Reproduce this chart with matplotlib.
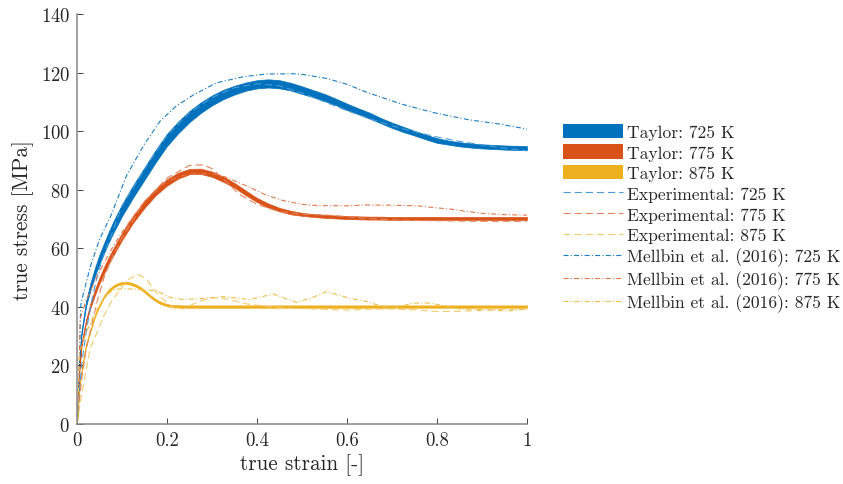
import matplotlib
matplotlib.use("Agg")
import matplotlib.pyplot as plt
from matplotlib.patches import Patch
from matplotlib.lines import Line2D

plt.rcParams["font.family"] = "serif"
plt.rcParams["font.serif"] = ["cmr10"]
plt.rcParams["axes.formatter.use_mathtext"] = True
plt.rcParams["axes.unicode_minus"] = False

BLUE = "#0072BD"
ORANGE = "#D95319"
YELLOW = "#EDB120"

# Taylor model bands (lower / upper edge of the simulation spread)
taylor_x = [0, 0.005, 0.01, 0.02, 0.03, 0.04, 0.05, 0.06, 0.07, 0.08, 0.09, 0.1, 0.125, 0.15,
            0.175, 0.2, 0.225, 0.25, 0.275, 0.3, 0.325, 0.35, 0.375, 0.4, 0.425, 0.45, 0.475,
            0.5, 0.525, 0.55, 0.575, 0.6, 0.625, 0.65, 0.675, 0.7, 0.725, 0.75, 0.775, 0.8,
            0.825, 0.85, 0.875, 0.9, 0.95, 1.0]
taylor725_hi = [0, 22.5, 31.7, 41.9, 48.2, 53.4, 57.9, 61.7, 65.4, 68.9, 72.0, 75.0, 81.6, 87.6,
                93.6, 99.1, 103.3, 106.9, 109.8, 112.2, 114.1, 115.5, 116.6, 117.4, 117.7, 117.4,
                116.5, 115.3, 114.0, 112.7, 111.1, 109.4, 107.8, 106.3, 104.5, 102.9, 101.5,
                100.1, 98.8, 97.6, 96.8, 96.2, 95.8, 95.5, 95.1, 94.9]
taylor725_lo = [0, 21.5, 30.3, 40.1, 45.8, 50.6, 54.7, 58.3, 61.8, 65.1, 68.0, 71.0, 77.4, 83.4,
                89.4, 94.9, 99.3, 103.1, 106.2, 108.8, 110.9, 112.5, 113.8, 114.6, 114.9, 114.6,
                113.9, 112.7, 111.6, 110.3, 108.9, 107.2, 105.8, 104.3, 102.7, 101.1, 99.7,
                98.5, 97.2, 96.0, 95.4, 94.8, 94.4, 94.1, 93.7, 93.5]
taylor775_hi = [0, 18.4, 27.5, 35.6, 41.3, 45.9, 50.0, 53.6, 56.8, 59.7, 62.5, 65.2, 71.2, 76.2,
                80.3, 83.6, 85.8, 87.1, 87.2, 86.2, 84.5, 82.3, 79.7, 77.2, 75.3, 73.8, 72.8,
                72.1, 71.7, 71.4, 71.2, 71.0, 70.9, 70.8, 70.8, 70.7, 70.7, 70.7, 70.7, 70.7,
                70.7, 70.7, 70.7, 70.7, 70.7, 70.7]
taylor775_lo = [0, 17.6, 26.5, 34.4, 39.7, 44.1, 48.0, 51.4, 54.6, 57.3, 60.1, 62.8, 68.8, 73.8,
                78.1, 81.4, 83.8, 85.3, 85.4, 84.4, 82.7, 80.7, 78.1, 75.8, 73.9, 72.6, 71.6,
                71.1, 70.7, 70.4, 70.2, 70.0, 69.9, 69.8, 69.8, 69.7, 69.7, 69.7, 69.7, 69.7,
                69.7, 69.7, 69.7, 69.7, 69.7, 69.7]

taylor875_x = [0, 0.005, 0.01, 0.02, 0.03, 0.04, 0.05, 0.06, 0.07, 0.08, 0.09, 0.1, 0.11, 0.12,
               0.13, 0.14, 0.15, 0.16, 0.17, 0.18, 0.19, 0.2, 0.21, 0.22, 0.24, 0.27, 0.3, 0.4,
               0.5, 0.6, 0.7, 0.8, 0.9, 1.0]
taylor875_hi = [0, 12.4, 18.4, 27.4, 32.4, 37.4, 40.9, 43.9, 45.9, 47.2, 48.1, 48.5, 48.6, 48.3,
                47.7, 46.9, 45.7, 44.4, 43.2, 42.2, 41.5, 41.0, 40.7, 40.6, 40.5, 40.5, 40.5,
                40.5, 40.5, 40.5, 40.5, 40.5, 40.5, 40.5]
taylor875_lo = [0, 11.6, 17.6, 26.6, 31.6, 36.6, 40.1, 43.1, 45.1, 46.4, 47.3, 47.7, 47.8, 47.5,
                46.9, 46.1, 44.9, 43.6, 42.4, 41.4, 40.7, 40.2, 39.9, 39.8, 39.7, 39.7, 39.7,
                39.7, 39.7, 39.7, 39.7, 39.7, 39.7, 39.7]

# Experimental curves
exp725_x = [0, 0.005, 0.01, 0.02, 0.03, 0.045, 0.06, 0.08, 0.1, 0.15, 0.2, 0.25, 0.3, 0.35,
            0.4, 0.45, 0.5, 0.55, 0.6, 0.65, 0.7, 0.75, 0.8, 0.85, 0.9, 0.95, 1.0]
exp725_y = [0, 10, 20, 31, 40, 50.6, 58, 66, 74.5, 87, 98.5, 106.3, 111.5, 114.8,
            116.2, 115.5, 113, 110, 107, 104.3, 101.8, 99.8, 98, 96.5, 95.3, 94.2, 93.3]
exp775_x = [0, 0.005, 0.01, 0.02, 0.03, 0.045, 0.06, 0.08, 0.1, 0.15, 0.2, 0.25, 0.28, 0.3,
            0.33, 0.36, 0.4, 0.45, 0.5, 0.55, 0.6, 0.65, 0.7, 0.75, 0.8, 0.85, 0.9, 0.95, 1.0]
exp775_y = [0, 8, 15, 25, 32, 42, 50, 57.5, 63.5, 76, 84, 88.3, 88.5, 87.2,
            83, 78.5, 75, 72.5, 71.6, 71.4, 70.8, 70.1, 69.7, 69.5, 69.4, 69.3, 69.2, 69.2, 69.2]
exp875_x = [0, 0.01, 0.02, 0.029, 0.045, 0.058, 0.075, 0.096, 0.115, 0.136, 0.155, 0.17,
            0.185, 0.199, 0.215, 0.236, 0.266, 0.296, 0.33, 0.377, 0.42, 0.47, 0.52, 0.6, 0.65,
            0.7, 0.75, 0.8, 0.85, 0.9, 0.95, 1.0]
exp875_y = [0, 10, 18, 25.6, 31.5, 36.4, 41.5, 46, 49.5, 51, 49.5, 46,
            43.5, 41.5, 39.6, 39.3, 41.5, 43.1, 42.8, 41, 40.2, 39.6, 39.3, 38.9, 39.2,
            39.3, 39, 38.4, 38.5, 38.8, 39.2, 39.3]

# Mellbin et al. (2016)
mel725_x = [0, 0.004, 0.008, 0.01, 0.03, 0.05, 0.075, 0.11, 0.15, 0.185, 0.22, 0.26, 0.31,
            0.37, 0.42, 0.48, 0.5, 0.555, 0.6, 0.645, 0.72, 0.79, 0.87, 0.94, 1.0]
mel725_y = [0, 10, 40, 42, 54, 63, 71, 84.8, 95.6, 103.5, 108.5, 112.5, 116.5,
            118.6, 119.5, 119.6, 119.4, 118, 116, 113.2, 109.3, 106.4, 103.9, 102.4, 100.7]
mel775_x = [0, 0.004, 0.007, 0.02, 0.04, 0.06, 0.08, 0.1, 0.15, 0.2, 0.25, 0.3, 0.333, 0.384,
            0.42, 0.458, 0.5, 0.533, 0.6, 0.644, 0.7, 0.755, 0.8, 0.829, 0.87, 0.903, 0.95, 1.0]
mel775_y = [0, 15, 36, 42, 49, 55, 60.5, 65.5, 76, 83, 85.5, 85.5, 84.2, 80.8,
            78.2, 76.3, 75, 74.6, 74.5, 74.8, 74.7, 74.5, 73.8, 73.4, 72.5, 71.9, 71.5, 71.3]
mel875_x = [0, 0.003, 0.006, 0.02, 0.04, 0.06, 0.08, 0.1, 0.133, 0.177, 0.207, 0.236, 0.281,
            0.325, 0.384, 0.436, 0.488, 0.52, 0.555, 0.607, 0.644, 0.673, 0.703, 0.747, 0.784,
            0.814, 0.851, 0.91, 0.955, 1.0]
mel875_y = [0, 10, 25, 31, 38, 43, 45.8, 46.2, 46, 45.5, 43.2, 42.5, 42.9,
            43.5, 42.5, 44.4, 41.5, 43, 45.2, 42.9, 41.8, 40.4, 39.5, 41.3, 41.3,
            40.4, 39.3, 39, 38.6, 39.3]

temps = ["725 K", "775 K", "875 K"]
colors = [BLUE, ORANGE, YELLOW]
exp_colors = ["#4A9CD6", "#E6845A", "#F2CB6C"]
mel_colors = ["#1A7EC4", "#E2774A", "#EFBD48"]

fig = plt.figure(figsize=(8.43, 4.85), dpi=100)
ax = fig.add_axes([77 / 843, 60 / 485, 450 / 843, 410 / 485])

bands = [(taylor_x, taylor725_lo, taylor725_hi),
         (taylor_x, taylor775_lo, taylor775_hi),
         (taylor875_x, taylor875_lo, taylor875_hi)]
for (bx, lo, hi), c in zip(bands, colors):
    ax.fill_between(bx, lo, hi, color=c, linewidth=0.5, edgecolor=c)

dash = (0, (6.5, 3.5))
dashdot = (0, (4.5, 2, 1, 2))
exps = [(exp725_x, exp725_y), (exp775_x, exp775_y), (exp875_x, exp875_y)]
mels = [(mel725_x, mel725_y), (mel775_x, mel775_y), (mel875_x, mel875_y)]
for (ex, ey), c in zip(exps, exp_colors):
    ax.plot(ex, ey, color=c, lw=0.8, linestyle=dash)
for (mx, my), c in zip(mels, mel_colors):
    ax.plot(mx, my, color=c, lw=0.8, linestyle=dashdot)

ax.set_xlim(0, 1)
ax.set_ylim(0, 140)
ax.set_xticks([0, 0.2, 0.4, 0.6, 0.8, 1])
ax.set_xticklabels(["0", "0.2", "0.4", "0.6", "0.8", "1"])
ax.set_yticks(range(0, 141, 20))
for side in ["top", "right"]:
    ax.spines[side].set_visible(False)
for side in ["left", "bottom"]:
    ax.spines[side].set_color("#888888")
    ax.spines[side].set_linewidth(1.1)
ax.tick_params(direction="in", length=4, width=0.6, color="#262626",
               labelcolor="#262626", labelsize=13.5, pad=5)
ax.set_xlabel("true strain [-]", fontsize=15.3, color="#262626", labelpad=3)
ax.set_ylabel("true stress [MPa]", fontsize=15.3, color="#262626", labelpad=5)

handles = [Patch(facecolor=c, edgecolor="none") for c in colors]
handles += [Line2D([], [], color=c, lw=0.8, linestyle=dash) for c in exp_colors]
handles += [Line2D([], [], color=c, lw=0.8, linestyle=dashdot) for c in mel_colors]
labels = ["Taylor: " + t for t in temps]
labels += ["Experimental: " + t for t in temps]
labels += ["Mellbin et al. (2016): " + t for t in temps]
fig.legend(handles, labels, loc="center left", bbox_to_anchor=(563 / 843, 266 / 485),
           frameon=False, fontsize=12.6, handlelength=3.4, handleheight=0.89,
           handletextpad=0.25, labelspacing=0.25, borderpad=0, borderaxespad=0,
           labelcolor="#262626")

fig.savefig("out.png", dpi=100)
